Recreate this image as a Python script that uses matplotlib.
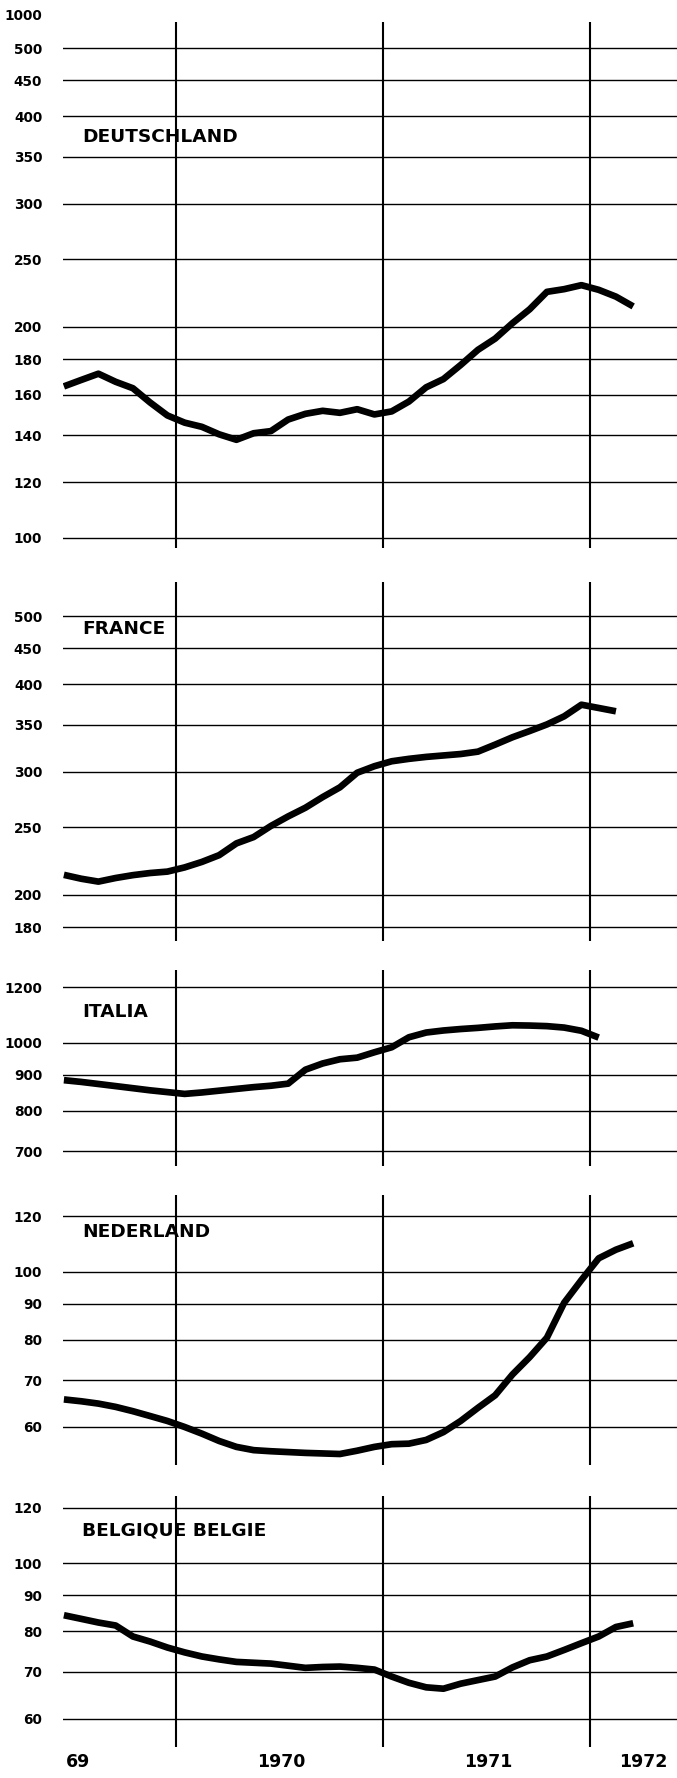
import numpy as np
import matplotlib.pyplot as plt
from matplotlib.ticker import NullLocator, NullFormatter

# monthly index values, first point = June 1969
deutschland = [164.5, 168, 171.5, 167, 163.5, 156, 149.5, 146, 144, 140.5, 138, 141,
               142, 147.5, 150.3, 151.8, 150.8, 152.6, 150, 151.5, 156.5, 164, 168.5,
               176.5, 185.5, 192.5, 202.5, 212, 224.5, 226.5, 229.5, 226, 221, 214]
france = [213.7, 211, 209, 211.5, 213.5, 215, 216, 219, 223, 228, 237, 242, 251, 259,
          266.5, 276, 285, 299, 305.5, 310.5, 313, 315, 316.5, 318, 320.5, 328, 336,
          343, 350.5, 360, 374, 370, 366]
italia = [884, 879, 873, 867, 861, 855, 850, 845, 849, 854, 859, 864, 868, 874, 915,
          934, 947, 952, 969, 985, 1018, 1034, 1041, 1046, 1050, 1055, 1059, 1058,
          1056, 1051, 1040, 1017]
nederland = [65.7, 65.3, 64.8, 64.1, 63.2, 62.2, 61.2, 60.0, 58.7, 57.3, 56.2, 55.6,
             55.4, 55.25, 55.1, 55.0, 54.9, 55.5, 56.2, 56.7, 56.8, 57.5, 59.0, 61.2,
             63.9, 66.6, 71.3, 75.5, 80.5, 90.3, 97.3, 104.5, 107.5, 109.8]
belgique = [84.3, 83.3, 82.3, 81.5, 78.6, 77.3, 75.8, 74.6, 73.6, 72.9, 72.3, 72.1,
            71.9, 71.4, 70.9, 71.1, 71.2, 70.9, 70.5, 68.9, 67.5, 66.5, 66.2, 67.3,
            68.1, 68.9, 71.0, 72.7, 73.6, 75.2, 76.9, 78.6, 81.1, 82.1]

countries = ["DEUTSCHLAND", "FRANCE", "ITALIA", "NEDERLAND", "BELGIQUE BELGIE"]

grid_de = [100, 120, 140, 160, 180, 200, 250, 300, 350, 400, 450, 500]
grid_fr = [180, 200, 250, 300, 350, 400, 450, 500]
grid_it = [700, 800, 900, 1000, 1200]
grid_nl = [60, 70, 80, 90, 100, 120]
grid_be = [60, 70, 80, 90, 100, 120]

years = [1970, 1971, 1972]
year_labels = ["69", "1970", "1971", "1972"]

# page layout in pixels
W, H = 677, 1778
LEFT = 63
PX_DECADE = 700
X0, X1 = 1969.454, 1972.42

# (top px, bottom px, reference value, its px, label y px)
layout = [
    (21.7, 548, 100, 537.7, 137),
    (582, 941, 200, 895, 629),
    (970, 1166, 1000, 1042.7, 1012),
    (1195, 1465, 100, 1271.7, 1232),
    (1496, 1747, 100, 1563.3, 1530),
]

fig = plt.figure(figsize=(W / 100, H / 100), dpi=100)

series = [deutschland, france, italia, nederland, belgique]
grids = [grid_de, grid_fr, grid_it, grid_nl, grid_be]

for name, vals, grid, (top, bot, rv, rpx, ly) in zip(countries, series, grids, layout):
    ax = fig.add_axes([LEFT / W, 1 - bot / H, 1 - LEFT / W, (bot - top) / H])
    ax.set_yscale("log")
    ax.set_ylim(rv * 10 ** ((rpx - bot) / PX_DECADE), rv * 10 ** ((rpx - top) / PX_DECADE))
    ax.set_xlim(X0, X1)

    for g in grid:
        ax.axhline(g, color="black", lw=1.0, zorder=1)
    for yr in years:
        ax.axvline(yr, color="black", lw=1.5, zorder=1)

    x = 1969 + (5.5 + np.arange(len(vals))) / 12
    ax.plot(x, vals, color="black", lw=4.8, solid_capstyle="butt",
            solid_joinstyle="round", zorder=3)

    ax.set_yticks(grid)
    ax.set_yticklabels([str(g) for g in grid])
    ax.yaxis.set_minor_locator(NullLocator())
    ax.yaxis.set_minor_formatter(NullFormatter())
    ax.set_xticks([])
    ax.tick_params(axis="y", length=0, pad=15, labelsize=9.8)
    for lbl in ax.get_yticklabels():
        lbl.set_fontweight("bold")
    for s in ax.spines.values():
        s.set_visible(False)
    ax.patch.set_alpha(0)

    fig.text(82 / W, 1 - ly / H, name, fontsize=13.3, fontweight="bold",
             va="center", ha="left", zorder=5)

fig.text(42 / W, 1 - 16 / H, "1000", fontsize=9.8, fontweight="bold",
         ha="right", va="center")

for xp, t in zip([78, 281.6, 488.6, 643.6], year_labels):
    fig.text(xp / W, 1 - 1762 / H, t, fontsize=12.5, fontweight="bold",
             ha="center", va="center")

fig.savefig("out.png", dpi=100, facecolor="white")
